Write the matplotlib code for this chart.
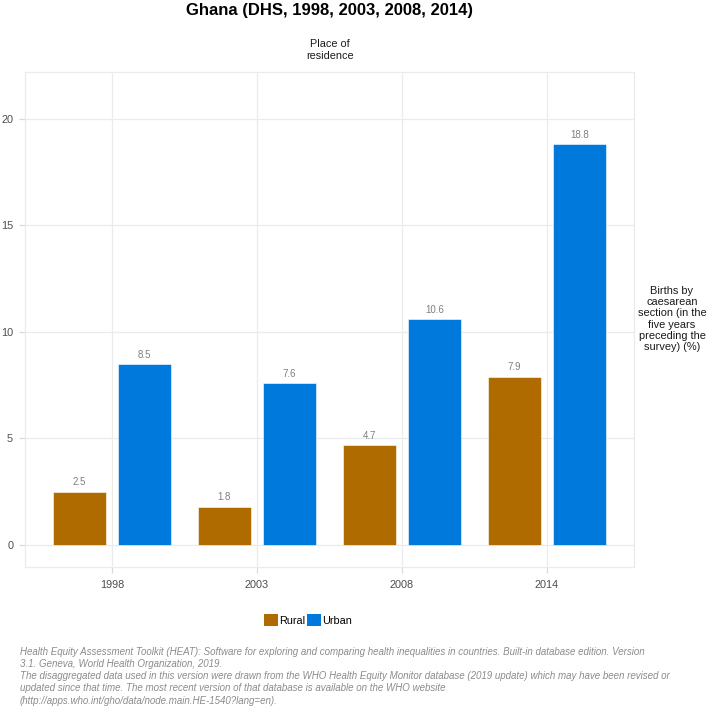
import matplotlib
matplotlib.use("Agg")
import matplotlib.pyplot as plt
from matplotlib.patches import Patch
import numpy as np

plt.rcParams["font.family"] = ["Liberation Sans", "DejaVu Sans"]

years = ["1998", "2003", "2008", "2014"]
rural = [2.5, 1.8, 4.7, 7.9]
urban = [8.5, 7.6, 10.6, 18.8]
groups = ["Rural", "Urban"]
colors = ["#AF6A00", "#0079DC"]

title = "Ghana (DHS, 1998, 2003, 2008, 2014)"
strip_label = "Place of\nresidence"
y_label = "Births by\ncaesarean\nsection (in the\nfive years\npreceding the\nsurvey) (%)"
caption = ("Health Equity Assessment Toolkit (HEAT): Software for exploring and comparing health inequalities in countries. Built-in database edition. Version\n"
           "3.1. Geneva, World Health Organization, 2019.\n"
           "The disaggregated data used in this version were drawn from the WHO Health Equity Monitor database (2019 update) which may have been revised or\n"
           "updated since that time. The most recent version of that database is available on the WHO website\n"
           "(http://apps.who.int/gho/data/node.main.HE-1540?lang=en).")

fig = plt.figure(figsize=(7.08, 7.12), dpi=100)
ax = fig.add_axes([25 / 708, 1 - 567 / 712, 609 / 708, 495 / 712])

x = np.arange(len(years))
bw = 0.37
off = 0.225
for vals, col, sign in [(rural, colors[0], -1), (urban, colors[1], 1)]:
    bars = ax.bar(x + sign * off, vals, width=bw, color=col, edgecolor="white",
                  linewidth=0.4, zorder=3)
    for b, v in zip(bars, vals):
        ax.annotate(f"{v:.1f}", (b.get_x() + b.get_width() / 2, v),
                    xytext=(0, 3), textcoords="offset points",
                    ha="center", va="bottom", fontsize=7, color="#7F7F7F")

ax.set_xlim(-0.6, 3.6)
ax.set_ylim(-1.04, 22.2)
ax.set_xticks(x)
ax.set_xticklabels(years)
ax.set_yticks([0, 5, 10, 15, 20])
ax.grid(True, color="#EBEBEB", linewidth=0.9, zorder=0)
ax.set_axisbelow(True)
for s in ax.spines.values():
    s.set_color("#EBEBEB")
    s.set_linewidth(0.9)
ax.tick_params(axis="both", length=4.5, width=0.9, color="#D9D9D9",
               labelsize=7.8, labelcolor="#4D4D4D")
ax.tick_params(axis="x", pad=5)
ax.tick_params(axis="y", pad=4)

fig.text(330 / 708, 1 - 10 / 712, title, ha="center", va="center",
         fontsize=12, fontweight="bold", color="black")
fig.text(330 / 708, 1 - 50 / 712, strip_label, ha="center", va="center",
         fontsize=7.8, color="#1A1A1A", linespacing=1.2)
fig.text(672 / 708, 1 - 319 / 712, y_label, ha="center", va="center",
         fontsize=7.9, color="#1A1A1A", linespacing=1.13)

handles = [Patch(facecolor=c, edgecolor="none") for c in colors]
fig.legend(handles, groups, loc="center", bbox_to_anchor=(308 / 708, 1 - 620 / 712),
           ncol=2, frameon=False, fontsize=7.8, handlelength=1.3, handleheight=1.3,
           handletextpad=0.1, columnspacing=0.1, borderpad=0)

fig.text(20 / 708, 1 - 647 / 712, caption, ha="left", va="top", fontsize=7.05,
         style="italic", color="#8C8C8C", linespacing=1.27)

fig.savefig("out.png", dpi=100)
